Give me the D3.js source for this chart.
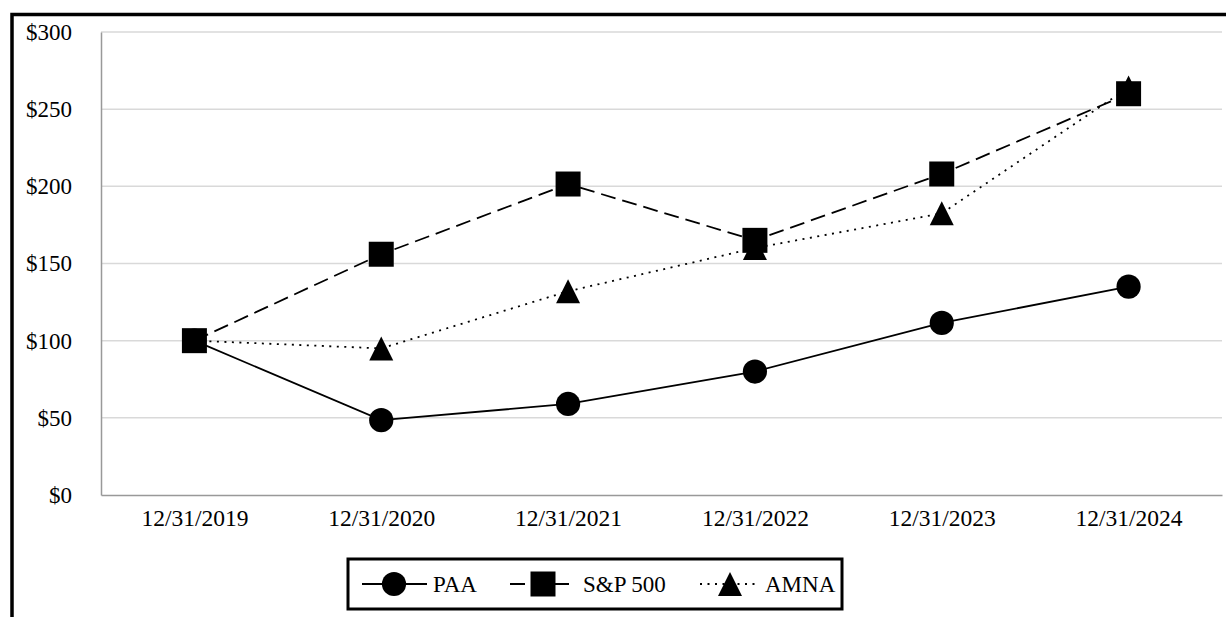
<!DOCTYPE html>
<meta charset="utf-8">
<style>
  body { margin: 0; background: #fff; }
  .grid line { stroke: #d9d9d9; stroke-width: 1.5px; }
</style>
<body>
<svg width="1226" height="617"></svg>
<script src="https://d3js.org/d3.v7.min.js"></script>
<script>
// dane
const dates = ['12/31/2019', '12/31/2020', '12/31/2021', '12/31/2022', '12/31/2023', '12/31/2024'];
const paa = [100, 48.5, 59, 80, 111.5, 135];
const sp500 = [100, 156, 201.5, 165, 208, 260];
const amna = [100, 95, 132, 160, 182.5, 264];
const yTicks = [0, 50, 100, 150, 200, 250, 300];

// trójkąt o równej szerokości i wysokości (jak w oryginale)
const triangle = {
  draw(context, size) {
    const h = Math.sqrt(size);
    context.moveTo(0, -h / 2);
    context.lineTo(h / 2, h / 2);
    context.lineTo(-h / 2, h / 2);
    context.closePath();
  }
};

const series = [
  { name: 'AMNA', values: amna, dash: '2,5.5', symbol: triangle, size: 576 },
  { name: 'PAA', values: paa, dash: null, symbol: d3.symbolCircle, size: 460 },
  { name: 'S&P 500', values: sp500, dash: '15,7', symbol: d3.symbolSquare, size: 625 }
];
const legendOrder = ['PAA', 'S&P 500', 'AMNA'];

const FONT = "'Liberation Serif', 'Times New Roman', Times, serif";
const svg = d3.select('svg');
const plotLeft = 101, plotRight = 1222, plotTop = 32, plotBottom = 495;

// ramka
svg.append('rect')
  .attr('x', 12).attr('y', 14.5)
  .attr('width', 1300).attr('height', 700)
  .attr('fill', 'none').attr('stroke', '#000').attr('stroke-width', 3.5);

const x = d3.scalePoint().domain(dates).range([plotLeft, plotRight]).padding(0.5);
const y = d3.scaleLinear().domain([0, 300]).range([plotBottom, plotTop]);

// siatka
svg.append('g').attr('class', 'grid')
  .selectAll('line').data(yTicks.slice(1)).enter().append('line')
  .attr('x1', plotLeft).attr('x2', plotRight)
  .attr('y1', d => y(d)).attr('y2', d => y(d));

// osie
const yAxis = svg.append('g')
  .attr('transform', `translate(${plotLeft},0)`)
  .call(d3.axisLeft(y).tickValues(yTicks).tickSize(0).tickPadding(29).tickFormat(d => '$' + d))
  .attr('font-family', FONT).attr('font-size', 23);
yAxis.select('.domain').attr('stroke', '#999').attr('stroke-width', 1.5);
yAxis.selectAll('text').attr('fill', '#000');

const xAxis = svg.append('g')
  .attr('transform', `translate(0,${plotBottom})`)
  .call(d3.axisBottom(x).tickSize(0).tickPadding(14))
  .attr('font-family', FONT).attr('font-size', 23.5);
xAxis.select('.domain').attr('stroke', '#999').attr('stroke-width', 1.5);
xAxis.selectAll('text').attr('fill', '#000');

// linie i znaczniki
const line = d3.line().x((d, i) => x(dates[i])).y(d => y(d));

series.forEach(s => {
  svg.append('path')
    .datum(s.values)
    .attr('d', line)
    .attr('fill', 'none')
    .attr('stroke', '#000')
    .attr('stroke-width', 1.8)
    .attr('stroke-dasharray', s.dash);
});
series.forEach(s => {
  svg.append('g').selectAll('path')
    .data(s.values).enter().append('path')
    .attr('d', d3.symbol().type(s.symbol).size(s.size))
    .attr('transform', (d, i) => `translate(${x(dates[i])},${y(d)})`)
    .attr('fill', '#000');
});

// legenda
const legend = svg.append('g');
legend.append('rect')
  .attr('x', 348).attr('y', 559)
  .attr('width', 494).attr('height', 50)
  .attr('fill', '#fff').attr('stroke', '#000').attr('stroke-width', 3);

const legendPos = [
  { x1: 362, x2: 427, cx: 394, tx: 433 },
  { x1: 510, x2: 576, cx: 543, tx: 583 },
  { x1: 700, x2: 760, cx: 730, tx: 765 }
];
legendOrder.forEach((name, i) => {
  const s = series.find(d => d.name === name);
  const p = legendPos[i];
  const ly = 584;
  legend.append('line')
    .attr('x1', p.x1).attr('x2', p.x2).attr('y1', ly).attr('y2', ly)
    .attr('stroke', '#000').attr('stroke-width', 1.8)
    .attr('stroke-dasharray', s.dash);
  legend.append('path')
    .attr('d', d3.symbol().type(s.symbol).size(s.size))
    .attr('transform', `translate(${p.cx},${ly})`)
    .attr('fill', '#000');
  legend.append('text')
    .attr('x', p.tx).attr('y', ly).attr('dy', '0.35em')
    .attr('font-family', FONT).attr('font-size', 23)
    .text(name);
});
</script>
</body>
